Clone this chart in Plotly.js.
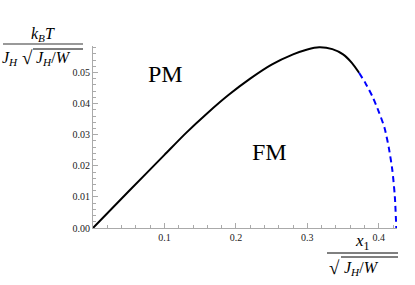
<!DOCTYPE html>
<html>
<head>
<meta charset="utf-8">
<script src="https://cdn.plot.ly/plotly-3.0.1.min.js"></script>
<style>html,body{margin:0;padding:0;background:#fff;}#chart{width:415px;height:285px;}</style>
</head>
<body>
<div id="chart"></div>
<script>
// Solid branch
const solidX = [0, 0.05, 0.10, 0.13, 0.16, 0.19, 0.22, 0.25, 0.28, 0.30, 0.3166, 0.335, 0.35, 0.3626, 0.3724];
const solidY = [0, 0.0118, 0.0235, 0.0305, 0.0369, 0.0428, 0.0480, 0.0525, 0.0558, 0.0574, 0.0581, 0.0575, 0.0558, 0.0530, 0.0499];
// Dashed branch
const dashX = [0.3724, 0.3817, 0.3915, 0.4003, 0.4080, 0.4142, 0.4190, 0.4225, 0.4245];
const dashY = [0.0499, 0.0464, 0.0421, 0.0372, 0.0322, 0.0256, 0.0185, 0.0100, 0];
// Ticks
const xTickVals = [0.1, 0.2, 0.3, 0.4];
const xTickText = ['0.1', '0.2', '0.3', '0.4'];
const yTickVals = [0, 0.01, 0.02, 0.03, 0.04, 0.05];
const yTickText = ['0.00', '0.01', '0.02', '0.03', '0.04', '0.05'];
// Region labels
const regionLabels = ['PM', 'FM'];

const W = 415, H = 285, L = 93, R = 18, T = 46, B = 57;
const pw = W - L - R, ph = H - T - B;
const px = v => (v - L) / pw;
const py = v => (H - B - v) / ph;

const serif = 'Liberation Serif, Times New Roman, serif';

const traces = [
  {x: solidX, y: solidY, mode: 'lines', line: {color: '#000', width: 2, shape: 'spline', smoothing: 0.7}, hoverinfo: 'skip'},
  {x: dashX, y: dashY, mode: 'lines', line: {color: '#0000ff', width: 2, dash: '6px,4px', shape: 'spline', smoothing: 0.7}, hoverinfo: 'skip'}
];

const ann = (x, y, text, size, xanchor) => ({
  xref: 'paper', yref: 'paper', x: px(x), y: py(y), text: text, showarrow: false,
  xanchor: xanchor || 'center', yanchor: 'middle', font: {family: serif, size: size, color: '#000'}
});

const annotations = [
  ann(165, 74, regionLabels[0], 24),
  ann(269, 152, regionLabels[1], 24),
  // y title
  ann(43, 34, '<i>k</i><sub><i>B</i></sub><i>T</i>', 16),
  ann(20, 58, '<i>J</i><sub><i>H</i></sub>', 16, 'right'),
  ann(27, 57, '√', 19),
  ann(34, 58, '<i>J</i><sub><i>H</i></sub>/<i>W</i>', 16, 'left'),
  // x title
  ann(362, 242, '<i>x</i><sub>1</sub>', 17),
  ann(334, 267, '√', 19),
  ann(342, 268, '<i>J</i><sub><i>H</i></sub>/<i>W</i>', 16, 'left')
];

const line = (x0, x1, y, color, width) => ({
  type: 'line', xref: 'paper', yref: 'paper', x0: px(x0), x1: px(x1), y0: py(y), y1: py(y),
  line: {color: color, width: width}
});

const shapes = [
  line(3, 83, 44, '#999', 2),
  line(33, 83, 49, '#000', 1),
  line(327, 398, 253, '#000', 1),
  line(341, 398, 257, '#000', 1)
];

const axisCommon = {
  showgrid: false, zeroline: false, showline: true, linecolor: '#aaa', linewidth: 1,
  ticks: 'inside', ticklen: 5, tickcolor: '#aaa', tickwidth: 1,
  tickfont: {family: serif, size: 10, color: '#222'}, fixedrange: true
};

const layout = {
  width: W, height: H,
  margin: {l: L, r: R, t: T, b: B, pad: 0},
  paper_bgcolor: '#fff', plot_bgcolor: '#fff',
  showlegend: false,
  xaxis: Object.assign({}, axisCommon, {
    range: [0, 0.4255], tickmode: 'array', tickvals: xTickVals, ticktext: xTickText,
    minor: {dtick: 0.02, tick0: 0, ticklen: 3, tickcolor: '#aaa', ticks: 'inside'}
  }),
  yaxis: Object.assign({}, axisCommon, {
    range: [0, 0.0585], tickmode: 'array', tickvals: yTickVals, ticktext: yTickText,
    minor: {dtick: 0.002, tick0: 0, ticklen: 3, tickcolor: '#aaa', ticks: 'inside'}
  }),
  annotations: annotations,
  shapes: shapes
};

Plotly.newPlot('chart', traces, layout, {staticPlot: true, displayModeBar: false});
</script>
</body>
</html>
